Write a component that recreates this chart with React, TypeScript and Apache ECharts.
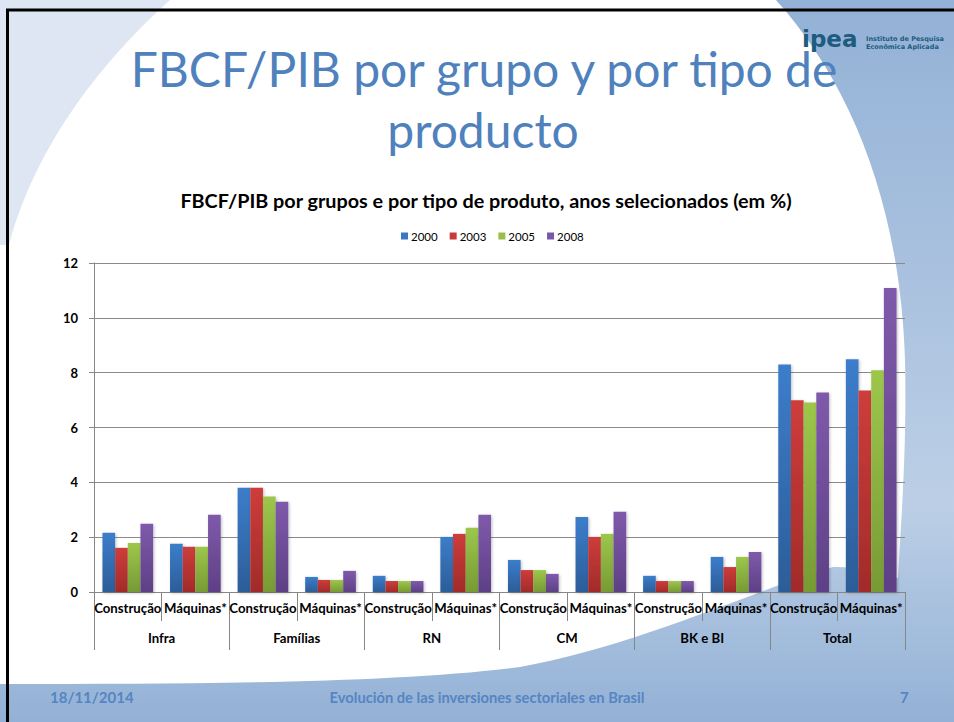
import React, { useEffect, useRef } from "react";
import * as echarts from "echarts";

const subCategories = [
  "Construção", "Máquinas*", "Construção", "Máquinas*", "Construção", "Máquinas*",
  "Construção", "Máquinas*", "Construção", "Máquinas*", "Construção", "Máquinas*",
];
const groups = ["Infra", "Famílias", "RN", "CM", "BK e BI", "Total"];
const years = ["2000", "2003", "2005", "2008"];
const s2000 = [2.16, 1.76, 3.8, 0.55, 0.59, 2.01, 1.17, 2.74, 0.59, 1.28, 8.3, 8.49];
const s2003 = [1.61, 1.65, 3.8, 0.44, 0.4, 2.12, 0.8, 2.01, 0.4, 0.91, 6.99, 7.35];
const s2005 = [1.79, 1.65, 3.48, 0.44, 0.4, 2.34, 0.8, 2.12, 0.4, 1.28, 6.91, 8.09];
const s2008 = [2.49, 2.82, 3.29, 0.77, 0.4, 2.82, 0.66, 2.93, 0.4, 1.46, 7.28, 11.09];
const yTicks = { min: 0, max: 12, interval: 2 };

const seriesValues = [s2000, s2003, s2005, s2008];
const colorsTop = ["#3c7dcb", "#cd3d3b", "#9dc74b", "#7f5aab"];
const colorsBottom = ["#2c5d98", "#a22b29", "#779a35", "#5e4086"];
const legendColors = ["#3a78c3", "#c9393b", "#98c047", "#7a57a6"];

const WHITE_PATH =
  "M0 0 L776 0 C848 80 900 200 905 360 C907 450 901 520 898 578 C875 572 852 566 833 567 C760 588 640 645 520 667 C400 683 200 684 0 684 Z";
const LIGHT_PATH = "M0 0 L170 0 C120 45 40 130 9 245 L0 245 Z";

export default function App() {
  const ref = useRef<HTMLDivElement>(null);
  useEffect(() => {
    document.body.style.margin = "0";
    echarts.graphic.registerShape("whiteArea", echarts.graphic.extendPath(WHITE_PATH, {}));
    echarts.graphic.registerShape("lightArea", echarts.graphic.extendPath(LIGHT_PATH, {}));
    const chart = echarts.init(ref.current!, null, { renderer: "svg" });
    const font = "Lato, 'Open Sans', sans-serif";
    const footerColor = "#5585c2";
    const option: any = {
      animation: false,
      backgroundColor: "#ffffff",
      graphic: [
        {
          type: "rect",
          z: -10,
          silent: true,
          shape: { x: 0, y: 0, width: 954, height: 722 },
          style: {
            fill: new echarts.graphic.LinearGradient(0, 0, 0, 1, [
              { offset: 0, color: "#93b1d6" },
              { offset: 0.7, color: "#bccfe6" },
              { offset: 1, color: "#93b1d6" },
            ]),
          },
        },
        { type: "whiteArea", z: -9, silent: true, x: 0, y: 0, style: { fill: "#ffffff" } },
        { type: "lightArea", z: -8, silent: true, x: 0, y: 0, style: { fill: "#dde6f2" } },
        {
          type: "polyline",
          z: 50,
          silent: true,
          shape: { points: [[7.5, 722], [7.5, 10], [954, 10]] },
          style: { stroke: "#000", lineWidth: 3, fill: null },
        },
        {
          type: "text",
          z: 20,
          x: 484,
          y: 68,
          style: {
            text: "FBCF/PIB por grupo y por tipo de",
            fill: "#4f81bd",
            font: `48px ${font}`,
            align: "center",
            verticalAlign: "middle",
          },
        },
        {
          type: "text",
          z: 20,
          x: 483,
          y: 129,
          style: {
            text: "producto",
            fill: "#4f81bd",
            font: `48px ${font}`,
            align: "center",
            verticalAlign: "middle",
          },
        },
        {
          type: "text",
          z: 30,
          x: 802,
          y: 27,
          style: { text: "ipea", fill: "#1d5c7e", font: `900 23px 'DejaVu Sans', sans-serif` },
        },
        {
          type: "text",
          z: 30,
          x: 866,
          y: 35,
          style: {
            text: "Instituto de Pesquisa\nEconômica Aplicada",
            fill: "#1d5c7e",
            font: `bold 6.5px 'DejaVu Sans', sans-serif`,
            lineHeight: 8,
          },
        },
        {
          type: "text",
          z: 20,
          x: 486,
          y: 200,
          style: {
            text: "FBCF/PIB por grupos e por tipo de produto, anos selecionados (em %)",
            fill: "#000",
            font: `bold 19.8px ${font}`,
            align: "center",
            verticalAlign: "middle",
          },
        },
        {
          type: "text",
          z: 20,
          x: 50,
          y: 697,
          style: {
            text: "18/11/2014",
            fill: footerColor,
            font: `bold 15px ${font}`,
            verticalAlign: "middle",
          },
        },
        {
          type: "text",
          z: 20,
          x: 487,
          y: 697,
          style: {
            text: "Evolución de las inversiones sectoriales en Brasil",
            fill: footerColor,
            font: `bold 14.7px ${font}`,
            align: "center",
            verticalAlign: "middle",
          },
        },
        {
          type: "text",
          z: 20,
          x: 900,
          y: 697,
          style: { text: "7", fill: footerColor, font: `bold 15px ${font}`, verticalAlign: "middle" },
        },
      ],
      legend: {
        top: 225,
        left: 396,
        itemWidth: 7,
        itemHeight: 7,
        itemGap: 12,
        icon: "rect",
        textStyle: { fontSize: 11.5, fontFamily: font, color: "#000", padding: [0, 0, 0, -2] },
        data: years.map((y, i) => ({ name: y, itemStyle: { color: legendColors[i] } })),
      },
      grid: { left: 94, right: 49, top: 263, bottom: 130, containLabel: false },
      xAxis: [
        {
          type: "category",
          data: subCategories,
          position: "bottom",
          axisLine: { show: true, lineStyle: { color: "#878787", width: 1 } },
          axisTick: { show: true, length: 29, lineStyle: { color: "#878787" } },
          axisLabel: {
            interval: 0,
            margin: 9,
            fontSize: 13.2,
            fontWeight: "bold",
            fontFamily: font,
            color: "#000",
          },
        },
        {
          type: "category",
          data: groups,
          position: "bottom",
          axisLine: { show: false },
          axisTick: { show: true, length: 58, lineStyle: { color: "#878787" } },
          axisLabel: {
            interval: 0,
            margin: 39,
            fontSize: 13.2,
            fontWeight: "bold",
            fontFamily: font,
            color: "#000",
          },
        },
      ],
      yAxis: {
        type: "value",
        min: yTicks.min,
        max: yTicks.max,
        interval: yTicks.interval,
        axisLine: { show: true, lineStyle: { color: "#878787" } },
        axisTick: { show: true, length: 5, lineStyle: { color: "#878787" } },
        splitLine: { show: true, lineStyle: { color: "#8a8a8a", width: 1 } },
        axisLabel: {
          margin: 16,
          fontSize: 13,
          fontWeight: "bold",
          fontFamily: font,
          color: "#000",
        },
      },
      series: years.map((y, i) => ({
        name: y,
        type: "bar",
        xAxisIndex: 0,
        data: seriesValues[i],
        barGap: "0%",
        barCategoryGap: "25%",
        itemStyle: {
          color: new echarts.graphic.LinearGradient(0, 0, 0, 1, [
            { offset: 0, color: colorsTop[i] },
            { offset: 1, color: colorsBottom[i] },
          ]),
          shadowColor: "rgba(0,0,0,0.25)",
          shadowBlur: 3,
          shadowOffsetX: 1,
          shadowOffsetY: 1,
        },
      })),
    };
    chart.setOption(option);
    return () => chart.dispose();
  }, []);
  return (
    <div
      ref={ref}
      style={{ position: "absolute", left: 0, top: 0, width: 954, height: 722 }}
    />
  );
}
